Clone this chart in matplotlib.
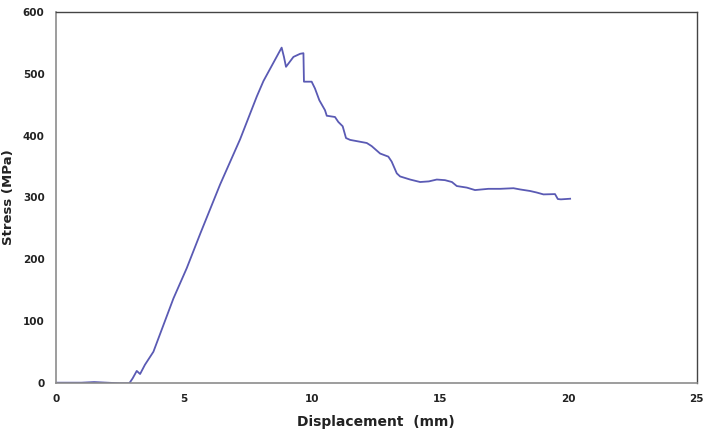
import matplotlib
matplotlib.use("Agg")
import matplotlib.pyplot as plt

displacement = [0.0, 0.5, 1.0, 1.5, 2.0, 2.5, 2.87, 3.0, 3.16, 3.29, 3.48, 3.81, 4.20, 4.59,
                5.11, 5.64, 6.41, 7.19, 7.84, 8.10, 8.81, 8.90, 8.98, 9.27, 9.53, 9.66,
                9.68, 9.98, 10.11, 10.28, 10.50, 10.57, 10.89, 11.02, 11.19, 11.32, 11.48,
                12.13, 12.32, 12.65, 12.97, 13.10, 13.30, 13.43, 13.82, 14.21, 14.55, 14.86,
                15.18, 15.45, 15.64, 16.03, 16.35, 16.87, 17.33, 17.85, 18.11, 18.50, 18.76,
                19.02, 19.47, 19.58, 19.70, 20.06]
stress = [1, 1, 1, 2, 1, 0, 0, 8, 20, 15, 30, 51, 94, 137,
          186, 242, 321, 394, 463, 488, 542, 527, 511, 527, 532, 533,
          487, 487, 476, 457, 441, 432, 430, 422, 415, 396, 393,
          388, 383, 371, 366, 358, 339, 334, 329, 325, 326, 329,
          328, 325, 318.5, 316, 312, 314, 314, 315, 313, 310.5, 308,
          305, 305.5, 297.5, 297, 298]

x_ticks = [0, 5, 10, 15, 20, 25]
y_ticks = [0, 100, 200, 300, 400, 500, 600]

fig = plt.figure(figsize=(7.08, 4.30), dpi=100)
ax = fig.add_axes([0.0787, 0.1086, 0.9055, 0.8642])
ax.plot(displacement, stress, color="#5a5ab4", lw=1.3)
ax.set_xlim(0, 25)
ax.set_ylim(0, 600)
ax.set_xticks(x_ticks)
ax.set_yticks(y_ticks)
ax.tick_params(length=0, labelsize=7.5, pad=8)
for lab in ax.get_xticklabels() + ax.get_yticklabels():
    lab.set_fontweight("bold")
    lab.set_color("#222222")
ax.set_xlabel("Displacement  (mm)", fontsize=10, fontweight="bold", color="#222222")
ax.set_ylabel("Stress (MPa)", fontsize=9.5, fontweight="bold", color="#222222")
ax.yaxis.set_label_coords(-0.063, 0.5)
ax.xaxis.set_label_coords(0.5, -0.085)
for s in ["left", "bottom"]:
    ax.spines[s].set_color("#8c8c8c")
    ax.spines[s].set_linewidth(1.2)
for s in ["top", "right"]:
    ax.spines[s].set_color("#444444")
    ax.spines[s].set_linewidth(1.0)
fig.savefig("out.png", dpi=100)
